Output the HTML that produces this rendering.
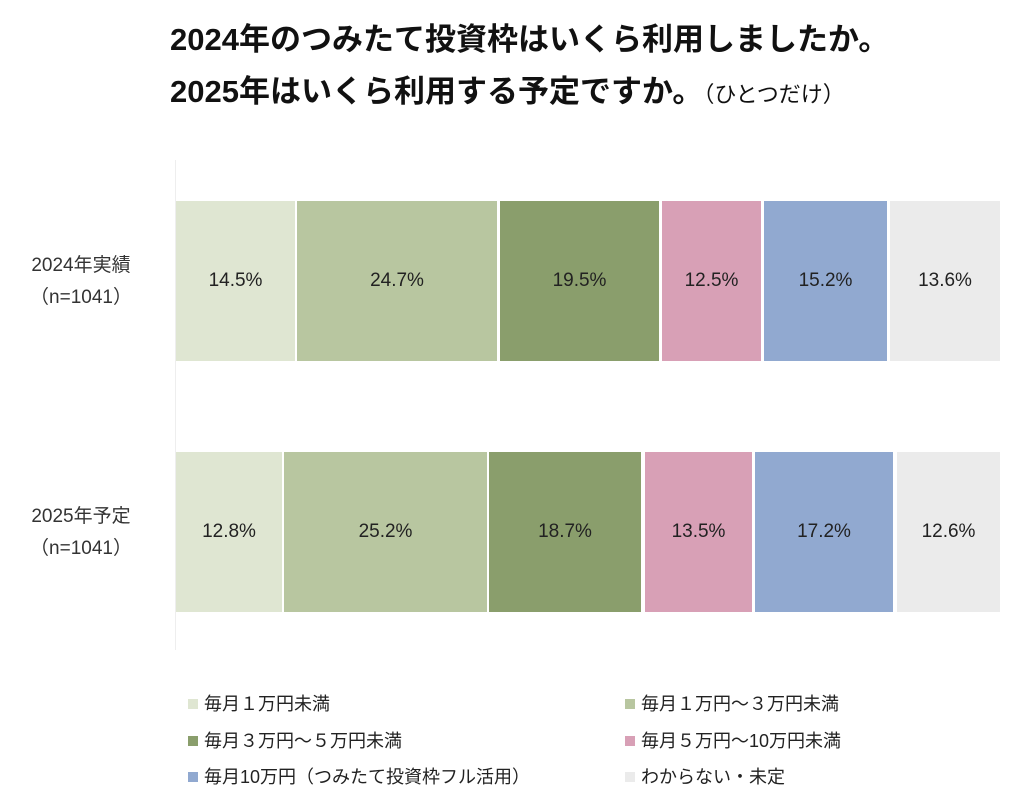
<!DOCTYPE html><html><head><meta charset="utf-8"><style>
body{margin:0;width:1024px;height:809px;background:#fff;font-family:"Liberation Sans","Noto Sans CJK JP",sans-serif;position:relative;overflow:hidden}
.t{position:absolute;font-weight:bold;font-size:31px;color:#111;white-space:nowrap}
.s{position:absolute;height:160px;display:flex;align-items:center;justify-content:center;font-size:19px;color:#222}
.l{position:absolute;font-size:18px;color:#222;white-space:nowrap}
.y{position:absolute;font-size:19px;color:#333;text-align:center;width:150px;line-height:32px}
.m{display:inline-block;width:10px;height:10px;margin-right:6px;vertical-align:1px}
</style></head><body>
<div class="t" style="left:170px;top:14px">2024年のつみたて投資枠はいくら利用しましたか。</div>
<div class="t" style="left:170px;top:66px">2025年はいくら利用する予定ですか。<span style="font-weight:normal;font-size:22px">（ひとつだけ）</span></div>
<div style="position:absolute;left:175px;top:160px;width:1px;height:490px;background:#eee"></div>
<div class="y" style="left:6px;top:250px">2024年実績<br>（n=1041）</div>
<div class="y" style="left:6px;top:501px">2025年予定<br>（n=1041）</div>
<div class="s" style="left:176px;top:201px;width:119px;background:#dfe6d2">14.5%</div>
<div class="s" style="left:297px;top:201px;width:200px;background:#b8c6a0">24.7%</div>
<div class="s" style="left:500px;top:201px;width:159px;background:#8a9e6c">19.5%</div>
<div class="s" style="left:662px;top:201px;width:99px;background:#d8a0b6">12.5%</div>
<div class="s" style="left:764px;top:201px;width:123px;background:#91a9d0">15.2%</div>
<div class="s" style="left:890px;top:201px;width:110px;background:#ebebeb">13.6%</div>
<div class="s" style="left:176px;top:452px;width:106px;background:#dfe6d2">12.8%</div>
<div class="s" style="left:284px;top:452px;width:203px;background:#b8c6a0">25.2%</div>
<div class="s" style="left:489px;top:452px;width:152px;background:#8a9e6c">18.7%</div>
<div class="s" style="left:645px;top:452px;width:107px;background:#d8a0b6">13.5%</div>
<div class="s" style="left:755px;top:452px;width:138px;background:#91a9d0">17.2%</div>
<div class="s" style="left:897px;top:452px;width:103px;background:#ebebeb">12.6%</div>
<div class="l" style="left:188px;top:690px"><span class="m" style="background:#dfe6d2"></span>毎月１万円未満</div>
<div class="l" style="left:188px;top:727px"><span class="m" style="background:#8a9e6c"></span>毎月３万円～５万円未満</div>
<div class="l" style="left:188px;top:763px"><span class="m" style="background:#91a9d0"></span>毎月10万円（つみたて投資枠フル活用）</div>
<div class="l" style="left:625px;top:690px"><span class="m" style="background:#b8c6a0"></span>毎月１万円～３万円未満</div>
<div class="l" style="left:625px;top:727px"><span class="m" style="background:#d8a0b6"></span>毎月５万円～10万円未満</div>
<div class="l" style="left:625px;top:763px"><span class="m" style="background:#ebebeb"></span>わからない・未定</div>
</body></html>
